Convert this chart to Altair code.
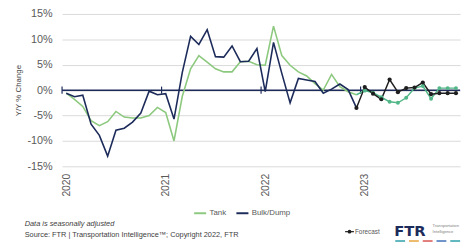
import altair as alt
import pandas as pd

# ---- data -------------------------------------------------------------
months = [f"{y}-{m:02d}" for y in range(2020, 2024) for m in range(1, 13)]

tank = [-0.6, -1.8, -3.2, -6.0, -7.0, -6.2, -4.2, -5.3, -5.5, -5.5, -5.0, -3.4,
        -4.4, -10.0, -1.2, 4.2, 6.8, 5.5, 4.2, 3.6, 3.6, 5.6, 5.7, 5.0,
        4.9, 12.6, 6.8, 4.9, 3.6, 2.8, 1.3, 0.0, 3.1, 0.7, -0.3, -0.9,
        -0.1, -0.5, -1.4, -2.3, -2.5, -1.5, 0.4, 0.8, -1.7, 0.4, 0.4, 0.4]

bulk = [-0.6, -1.3, -1.0, -6.7, -8.9, -13.0, -7.9, -7.5, -6.3, -4.5, -0.2, -0.9,
        -0.7, -5.7, 3.5, 10.6, 9.0, 11.9, 6.6, 6.5, 8.7, 5.6, 5.7, 8.2,
        -0.3, 9.4, 3.3, -2.5, 2.3, 2.0, 1.7, -0.6, 0.2, 1.2, 0.1, -3.5,
        0.6, -0.7, -1.8, 2.1, -0.4, 0.4, 0.5, 1.5, -0.8, -0.6, -0.6, -0.6]

last_actual = 35          # Dec 2022: last actual month, forecast starts after it
year_labels = ["2020", "2021", "2022", "2023"]
year_ticks = [0, 12, 24, 36]
year_bounds = [-0.5, 11.5, 23.5, 35.5]
y_ticks = [-15, -10, -5, 0, 5, 10, 15]

NAVY = "#1c2b5a"
GREEN = "#8cc97e"
FC_DARK = "#1e1e1e"
FC_GREEN = "#52b788"
GRAY = "#595959"

rows = []
for i, mth in enumerate(months):
    rows.append({"idx": i, "month": mth, "series": "Tank", "value": tank[i]})
    rows.append({"idx": i, "month": mth, "series": "Bulk/Dump", "value": bulk[i]})
df = pd.DataFrame(rows)
actual = df[df.idx <= last_actual]
fc_bulk = df[(df.idx >= last_actual) & (df.series == "Bulk/Dump")]
fc_tank = df[(df.idx >= last_actual) & (df.series == "Tank")]
fc_tank_pts = fc_tank[fc_tank.idx > last_actual]

one = pd.DataFrame({"a": [0]})
zero_df = pd.DataFrame({"x1": [-0.5], "x2": [47.5], "value": [0.0]})
bounds_df = pd.DataFrame({"idx": year_bounds, "lo": [-0.7] * 4, "hi": [0.7] * 4})

label_map = "{" + ",".join(f"'{t}':'{l}'" for t, l in zip(year_ticks, year_labels)) + "}"

xscale = alt.Scale(domain=[-0.5, 47.5], nice=False, zero=False)
yscale = alt.Scale(domain=[-15, 15], nice=False, zero=False)

x_axis = alt.Axis(values=year_ticks, labelExpr=f"{label_map}[datum.value]",
                  labelAngle=270, labelFontSize=10.5, labelColor=GRAY,
                  labelPadding=7, ticks=False, domain=False, grid=False,
                  title=None, labelFont="Liberation Sans", labelOverlap=False)
y_axis = alt.Axis(values=y_ticks, labelExpr="datum.value + '%'", grid=True,
                  gridColor="#d9d9d9", gridWidth=1, domain=False, ticks=False,
                  labelFontSize=11, labelColor=GRAY, labelPadding=10,
                  labelFont="Liberation Sans", labelOverlap=False, labelBound=False,
                  labelFlush=False,
                  title="Y/Y % Change", titleFontSize=8, titleColor="#404040",
                  titleFontWeight="normal", titlePadding=5, titleFont="Liberation Sans")

X = alt.X("idx:Q", scale=xscale, axis=x_axis)
Y = alt.Y("value:Q", scale=yscale, axis=y_axis)

zero = alt.Chart(zero_df).mark_rule(color=NAVY, strokeWidth=1.5).encode(
    x=alt.X("x1:Q", scale=xscale, axis=x_axis), x2="x2:Q", y=Y)

bticks = alt.Chart(bounds_df).mark_rule(color=NAVY, strokeWidth=1.2).encode(
    x=X, y=alt.Y("lo:Q", scale=yscale, axis=y_axis), y2="hi:Q")

lines = alt.Chart(actual).mark_line(strokeWidth=1.6).encode(
    x=X, y=Y,
    color=alt.Color("series:N",
                    scale=alt.Scale(domain=["Tank", "Bulk/Dump"], range=[GREEN, NAVY]),
                    legend=alt.Legend(orient="none", legendX=133, legendY=195,
                                      direction="horizontal", title=None,
                                      symbolType="stroke", symbolSize=150,
                                      symbolStrokeWidth=2, labelFontSize=8,
                                      labelColor=GRAY, columnPadding=6,
                                      labelFont="Liberation Sans",
                                      labelOffset=2)),
    detail="series:N", order="idx:Q")

fc_g_line = alt.Chart(fc_tank).mark_line(color=FC_GREEN, strokeWidth=1.5).encode(
    x=X, y=Y, order="idx:Q")
fc_g_pts = alt.Chart(fc_tank_pts).mark_circle(color=FC_GREEN, size=16, opacity=1).encode(
    x=X, y=Y)
fc_b_line = alt.Chart(fc_bulk).mark_line(color=FC_DARK, strokeWidth=1.5).encode(
    x=X, y=Y, order="idx:Q")
fc_b_pts = alt.Chart(fc_bulk).mark_circle(color=FC_DARK, size=18, opacity=1).encode(
    x=X, y=Y)

def txt(s, x, y, size, color="#404040", **kw):
    return alt.Chart(one).mark_text(text=s, fontSize=size, color=color, align="left",
                                    baseline="middle", font="Liberation Sans", **kw).encode(
        x=alt.value(x), y=alt.value(y))

note1 = txt("Data is seasonally adjusted", -38, 214, 7.5, fontStyle="italic")
note2 = txt("Source: FTR | Transportation Intelligence\u2122; Copyright 2022, FTR", -38, 224.5, 7.5)
fc_txt = txt("Forecast", 298, 221.5, 6.5, color=GRAY)
fc_rule = alt.Chart(one).mark_rule(color=FC_DARK, strokeWidth=1.2).encode(
    x=alt.value(288), x2=alt.value(297), y=alt.value(221.5))
fc_dot = alt.Chart(one).mark_circle(color=FC_DARK, size=14, opacity=1).encode(
    x=alt.value(292.5), y=alt.value(221.5))
ftr = alt.Chart(one).mark_text(text="FTR", fontSize=15, fontWeight="bold", color=NAVY,
                               align="left", baseline="middle", font="DejaVu Sans").encode(
    x=alt.value(338), y=alt.value(220.5))
ti1 = txt("Transportation", 377, 216, 4.2, color="#808080")
ti2 = txt("Intelligence", 377, 222, 4.2, color="#808080")

dash_colors = ["#2a9fa8", "#e8a33a", "#d9534f", "#3b6fb6", "#2a9fa8"]
dashes = []
for k, c in enumerate(dash_colors):
    x0 = 339 + k * 14
    dashes.append(alt.Chart(one).mark_rule(color=c, strokeWidth=1.5).encode(
        x=alt.value(x0), x2=alt.value(x0 + 10), y=alt.value(231)))

chart = alt.layer(zero, bticks, lines, fc_g_line, fc_b_line, fc_g_pts, fc_b_pts,
                  note1, note2, fc_rule, fc_dot, fc_txt, ftr, ti1, ti2, *dashes).properties(
    width=405, height=155,
    autosize=alt.AutoSizeParams(type="none"),
    padding={"left": 55, "top": 4, "right": 6, "bottom": 79},
    background="white",
).configure_view(stroke=None).configure_axis(labelOverlap=False)

chart.save("out.html", embed_options={"renderer": "svg", "actions": False})
